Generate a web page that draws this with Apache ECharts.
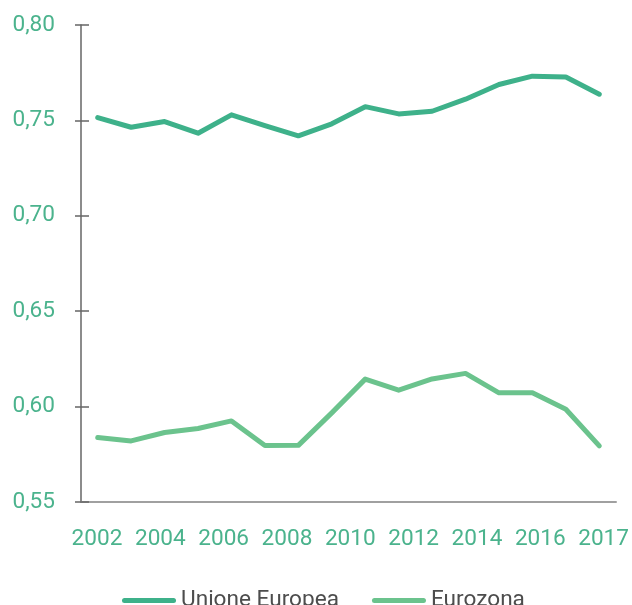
<!DOCTYPE html>
<html>
<head>
<meta charset="utf-8">
<script src="https://cdn.jsdelivr.net/npm/echarts@6/dist/echarts.min.js"></script>
<style>
  html, body { margin: 0; padding: 0; background: #ffffff; }
  #chart { width: 632px; height: 605px; }
</style>
</head>
<body>
<div id="chart"></div>
<script>
// Years of the series (one point per year)
const years = ['2002','2003','2004','2005','2006','2007','2008','2009',
               '2010','2011','2012','2013','2014','2015','2016','2017'];

// Labels printed under the horizontal axis
const yearTicks = ['2002','2004','2006','2008','2010','2012','2014','2016','2017'];

// Index values per year
const unioneEuropea = [0.7515, 0.7464, 0.7494, 0.7433, 0.7529, 0.7472, 0.7419, 0.7482,
                       0.7572, 0.7534, 0.7548, 0.7611, 0.7688, 0.7732, 0.7727, 0.7637];
const eurozona      = [0.5838, 0.5820, 0.5864, 0.5885, 0.5925, 0.5796, 0.5797, 0.5967,
                       0.6144, 0.6086, 0.6145, 0.6174, 0.6072, 0.6072, 0.5986, 0.5794];

const seriesNames = ['Unione Europea', 'Eurozona'];

const GREEN_TEXT = '#4bb38d';
const FONT = 'Roboto';
const FONT_SIZE = 22.6;

// Capsule-shaped legend key (thick line with rounded ends)
const CAPSULE = 'path://M2.5,0 L51.5,0 A2.5,2.5 0 0 1 51.5,5 L2.5,5 A2.5,2.5 0 0 1 2.5,0 Z';

const chart = echarts.init(document.getElementById('chart'), null, { renderer: 'canvas' });

const yCommon = {
  type: 'value',
  min: 0.55,
  max: 0.80,
  interval: 0.05,
  splitLine: { show: false }
};

chart.setOption({
  animation: false,
  backgroundColor: '#ffffff',
  textStyle: { fontFamily: FONT },
  grid: [
    { left: 81, right: 16, top: 25, bottom: 103 },
    { left: 97, right: 27, top: 25, bottom: 103 }
  ],
  xAxis: [
    {
      type: 'category',
      gridIndex: 0,
      data: years,
      boundaryGap: true,
      axisLine: { show: true, lineStyle: { color: '#a0a0a0', width: 2 } },
      axisTick: { show: false },
      axisLabel: { show: false }
    },
    {
      type: 'category',
      gridIndex: 1,
      data: yearTicks,
      boundaryGap: false,
      axisLine: { show: false },
      axisTick: { show: false },
      axisLabel: {
        interval: 0,
        color: GREEN_TEXT,
        fontFamily: FONT,
        fontSize: FONT_SIZE,
        margin: 26
      }
    }
  ],
  yAxis: [
    Object.assign({}, yCommon, {
      gridIndex: 0,
      axisLine: { show: true, lineStyle: { color: '#666666', width: 1.5 } },
      axisTick: { show: true, inside: false, length: 6, lineStyle: { color: '#666666', width: 1.5 } },
      axisLabel: {
        color: GREEN_TEXT,
        fontFamily: FONT,
        fontSize: FONT_SIZE,
        margin: 26,
        formatter: v => v.toFixed(2).replace('.', ',')
      }
    }),
    Object.assign({}, yCommon, {
      gridIndex: 0,
      position: 'left',
      axisLine: { show: false },
      axisTick: { show: true, inside: true, length: 8, lineStyle: { color: '#666666', width: 1.5 } },
      axisLabel: { show: false }
    }),
    Object.assign({}, yCommon, {
      gridIndex: 1,
      show: false
    })
  ],
  legend: {
    bottom: -12,
    left: 117,
    icon: CAPSULE,
    itemWidth: 54,
    itemHeight: 5,
    itemGap: 33,
    textStyle: { color: '#4d4d4d', fontFamily: FONT, fontSize: FONT_SIZE },
    data: seriesNames
  },
  series: [
    {
      name: seriesNames[0],
      type: 'line',
      xAxisIndex: 0,
      yAxisIndex: 0,
      data: unioneEuropea,
      symbol: 'none',
      color: '#3eb18a',
      lineStyle: { width: 5, cap: 'round', join: 'round' }
    },
    {
      name: seriesNames[1],
      type: 'line',
      xAxisIndex: 0,
      yAxisIndex: 0,
      data: eurozona,
      symbol: 'none',
      color: '#6bc38d',
      lineStyle: { width: 5, cap: 'round', join: 'round' }
    }
  ]
});
</script>
</body>
</html>
